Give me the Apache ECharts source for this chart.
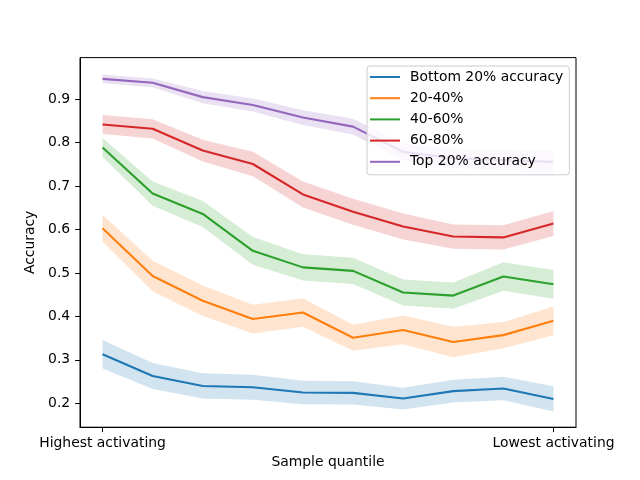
<!DOCTYPE html>
<html>
<head>
<meta charset="utf-8">
<script src="https://cdn.jsdelivr.net/npm/echarts@6/dist/echarts.min.js"></script>
<style>html,body{margin:0;padding:0;background:#fff}#c{width:640px;height:480px}</style>
</head>
<body>
<div id="c"></div>
<script>
var xPositions = [0,1,2,3,4,5,6,7,8,9];
var xTickValues = [0, 9];
var xTickLabels = ['Highest activating', 'Lowest activating'];
var yTickValues = [0.2,0.3,0.4,0.5,0.6,0.7,0.8,0.9];
var seriesNames = ['Bottom 20% accuracy','20-40%','40-60%','60-80%','Top 20% accuracy'];
var colors = ['#1f77b4','#ff7f0e','#2ca02c','#d62728','#9467bd'];

var bottomMean = [0.313,0.263,0.240,0.237,0.225,0.224,0.211,0.228,0.234,0.210];
var bottomCI   = [0.033,0.030,0.029,0.029,0.027,0.027,0.025,0.026,0.027,0.029];
var q2040Mean  = [0.603,0.493,0.436,0.394,0.409,0.351,0.369,0.341,0.357,0.390];
var q2040CI    = [0.031,0.035,0.035,0.033,0.033,0.030,0.033,0.035,0.030,0.033];
var q4060Mean  = [0.789,0.683,0.636,0.551,0.513,0.505,0.455,0.448,0.492,0.474];
var q4060CI    = [0.022,0.028,0.030,0.032,0.030,0.030,0.030,0.030,0.033,0.033];
var q6080Mean  = [0.842,0.832,0.782,0.751,0.681,0.641,0.607,0.584,0.582,0.614];
var q6080CI    = [0.022,0.022,0.025,0.028,0.030,0.030,0.030,0.028,0.028,0.029];
var topMean    = [0.947,0.938,0.905,0.887,0.858,0.837,0.779,0.764,0.760,0.756];
var topCI      = [0.010,0.010,0.014,0.015,0.017,0.018,0.020,0.022,0.025,0.027];

var means = [bottomMean,q2040Mean,q4060Mean,q6080Mean,topMean];
var cis = [bottomCI,q2040CI,q4060CI,q6080CI,topCI];

var font = 'DejaVu Sans';
var series = [];
means.forEach(function(m, k){
  var ci = cis[k];
  series.push({
    type: 'custom',
    name: seriesNames[k] + ' band',
    silent: true,
    z: 1,
    data: [[0]],
    renderItem: function(params, api){
      var pts = [];
      for (var i = 0; i < xPositions.length; i++) pts.push(api.coord([xPositions[i], m[i] + ci[i]]));
      for (var j = xPositions.length - 1; j >= 0; j--) pts.push(api.coord([xPositions[j], m[j] - ci[j]]));
      return {type: 'polygon', shape: {points: pts}, style: {fill: colors[k], opacity: 0.2}};
    }
  });
});
means.forEach(function(m, k){
  series.push({
    type: 'line',
    name: seriesNames[k],
    data: xPositions.map(function(x, i){ return [x, m[i]]; }),
    showSymbol: false,
    symbol: 'none',
    color: colors[k],
    lineStyle: {width: 2.1, color: colors[k]},
    z: 3
  });
});

var chart = echarts.init(document.getElementById('c'));
chart.setOption({
  animation: false,
  backgroundColor: '#fff',
  grid: {left: 80, right: 64, top: 57.6, bottom: 52.8, show: true, borderColor: '#000', borderWidth: 1, backgroundColor: 'transparent'},
  legend: {
    data: seriesNames,
    orient: 'vertical',
    left: 367, top: 66,
    icon: 'rect', itemWidth: 30, itemHeight: 2, itemGap: 5.2,
    textStyle: {fontFamily: font, fontSize: 13.9, color: '#000', lineHeight: 16, padding: [0, 0, 0, 5]},
    padding: [3, 6, 5, 3],
    backgroundColor: 'rgba(255,255,255,0.8)',
    borderColor: '#cccccc', borderWidth: 1, borderRadius: 3,
    z: 10
  },
  xAxis: {
    type: 'value', min: -0.45, max: 9.45,
    name: 'Sample quantile', nameLocation: 'middle', nameGap: 27,
    nameTextStyle: {fontFamily: font, fontSize: 13.9, color: '#000'},
    axisLine: {show: true, onZero: false, lineStyle: {color: '#000', width: 1}},
    axisTick: {show: true, customValues: xTickValues, length: 4.9, lineStyle: {color: '#000', width: 1}},
    axisLabel: {customValues: xTickValues, margin: 9, fontFamily: font, fontSize: 13.9, color: '#000',
      formatter: function(v){ var i = xTickValues.indexOf(v); return i >= 0 ? xTickLabels[i] : ''; }},
    splitLine: {show: false}
  },
  yAxis: {
    type: 'value', min: 0.145, max: 0.996,
    name: 'Accuracy', nameLocation: 'middle', nameGap: 35,
    nameTextStyle: {fontFamily: font, fontSize: 13.9, color: '#000'},
    axisLine: {show: true, onZero: false, lineStyle: {color: '#000', width: 1}},
    axisTick: {show: true, customValues: yTickValues, length: 4.9, lineStyle: {color: '#000', width: 1}},
    axisLabel: {customValues: yTickValues, margin: 9.8, fontFamily: font, fontSize: 13.9, color: '#000',
      formatter: function(v){ return v.toFixed(1); }},
    splitLine: {show: false}
  },
  series: series
});
</script>
</body>
</html>
